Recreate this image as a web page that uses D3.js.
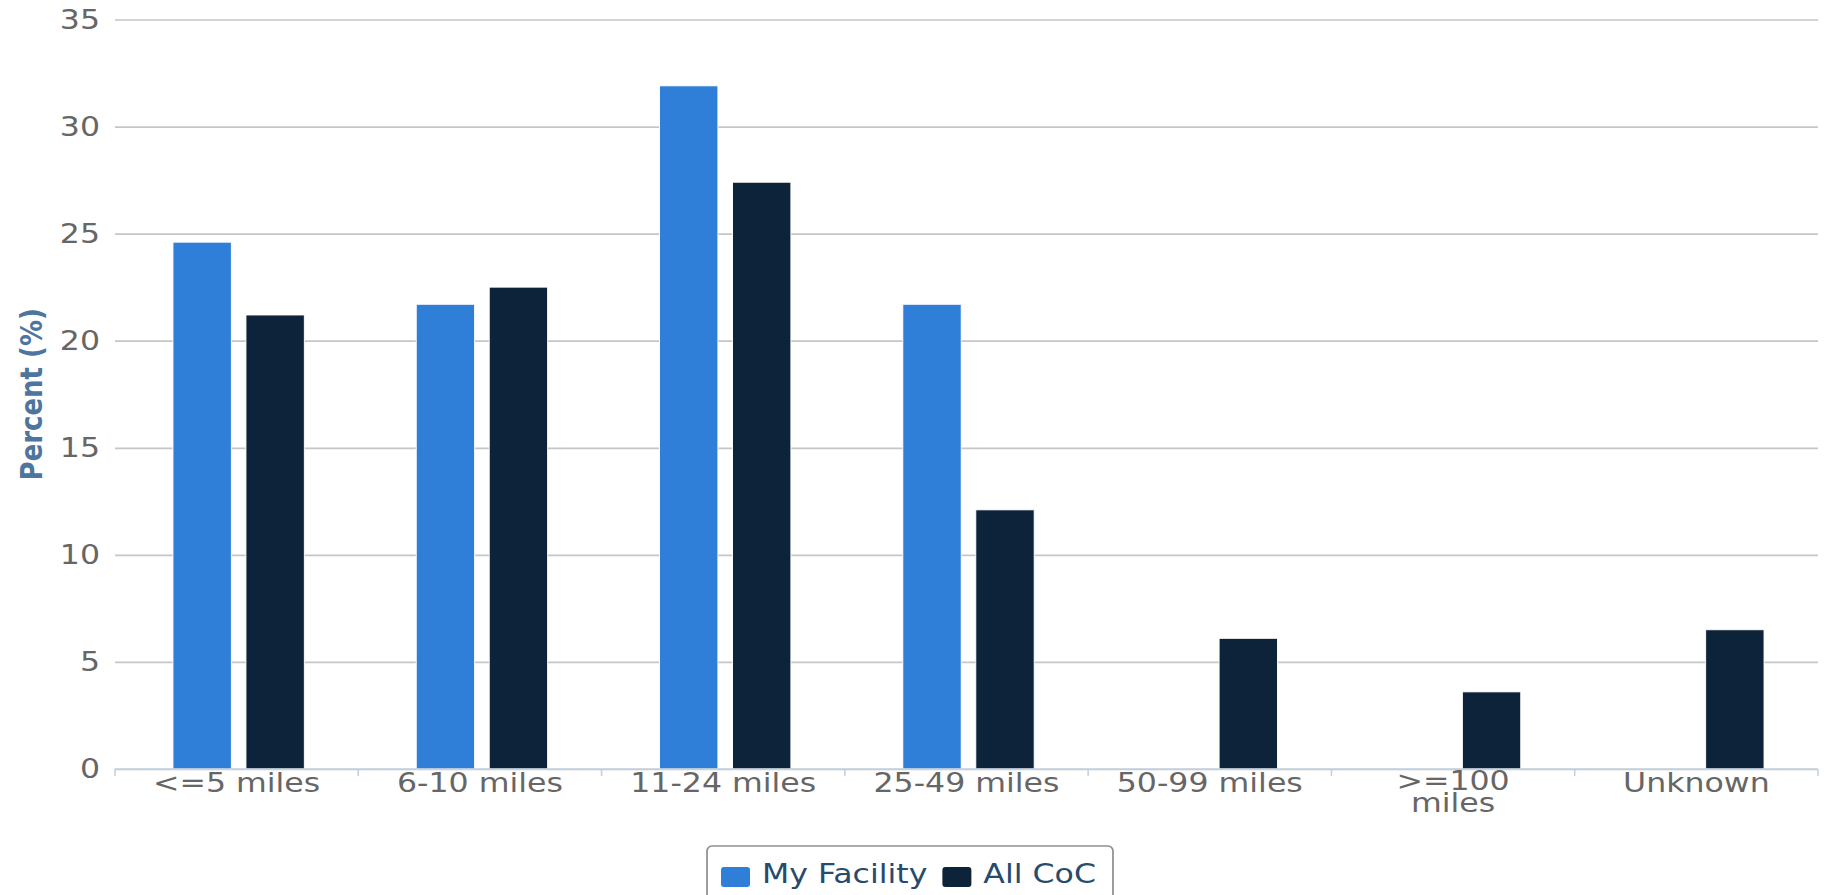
<!DOCTYPE html>
<html>
<head>
<meta charset="utf-8">
<script src="https://cdn.jsdelivr.net/npm/d3@7"></script>
<style>
  body { margin: 0; background: #fff; }
  text { font-family: "DejaVu Sans", Verdana, sans-serif; }
</style>
</head>
<body>
<script>
var width = 1826; // the svg fills the window
var height = 895;
var K = 1.17; // the reference is stretched sideways, so the whole drawing is too

// data
var categories = ["<=5 miles", "6-10 miles", "11-24 miles", "25-49 miles", "50-99 miles", ">=100 miles", "Unknown"];
var seriesNames = ["My Facility", "All CoC"];
var myFacility = [24.6, 21.7, 31.9, 21.7, 0, 0, 0];
var allCoC = [21.2, 22.5, 27.4, 12.1, 6.1, 3.6, 6.5];
var yTicks = [0, 5, 10, 15, 20, 25, 30, 35];
var colors = ["#2f7ed8", "#0d233a"];

var seriesValues = [myFacility, allCoC];

// plot area in screen pixels
var plotL = 115, plotR = 1818, plotT = 19.5, plotB = 769;

var svg = d3.select("body").append("svg")
  .attr("width", width)
  .attr("height", height);

var g = svg.append("g").attr("transform", "scale(" + K + ",1)");

var y = d3.scaleLinear().domain([0, 35]).range([plotB, plotT]);
var x0 = d3.scaleBand().domain(categories).range([plotL / K, plotR / K]);
// highcharts-like spacing: group padding 0.2, point padding 0.1
var x1 = d3.scaleBand().domain(seriesNames).range([0, x0.bandwidth()])
  .paddingInner(0.2).paddingOuter(0.7667);

// grid + y labels
var yAxis = d3.axisLeft(y).tickValues(yTicks)
  .tickSize(-(plotR - plotL) / K)
  .tickPadding(15 / K);

var yg = g.append("g")
  .attr("transform", "translate(" + (plotL / K) + ",0)")
  .call(yAxis);
yg.select(".domain").remove();
yg.selectAll(".tick line").attr("stroke", "#c6c6c6").attr("stroke-width", 1.7);
yg.selectAll(".tick text")
  .style("font-size", "27px")
  .attr("fill", "#666");

// bars
var rows = categories.map(function (c, i) {
  return seriesNames.map(function (s, j) {
    return { cat: c, name: s, value: seriesValues[j][i], color: colors[j] };
  });
});

g.append("g").selectAll("g")
  .data(rows)
  .join("g")
  .attr("transform", function (d, i) { return "translate(" + x0(categories[i]) + ",0)"; })
  .selectAll("rect")
  .data(function (d) { return d.filter(function (p) { return p.value > 0; }); })
  .join("rect")
  .attr("x", function (d) { return x1(d.name) + 2 / K; })
  .attr("width", x1.bandwidth())
  .attr("y", function (d) { return y(d.value); })
  .attr("height", function (d) { return y(0) - y(d.value); })
  .attr("fill", function (d) { return d.color; })
  .attr("stroke", "#fff")
  .attr("stroke-width", 0.8);

// x axis line and boundary ticks
g.append("line")
  .attr("x1", plotL / K).attr("x2", plotR / K)
  .attr("y1", plotB).attr("y2", plotB)
  .attr("stroke", "#c0d0e0").attr("stroke-width", 1.7);

var bounds = categories.map(function (c) { return x0(c); }).concat([x0.range()[1]]);
g.append("g").selectAll("line")
  .data(bounds)
  .join("line")
  .attr("x1", function (d) { return d; })
  .attr("x2", function (d) { return d; })
  .attr("y1", plotB)
  .attr("y2", plotB + 7)
  .attr("stroke", "#c0d0e0")
  .attr("stroke-width", 1.3);

// x labels, wrapped when too wide for the slot
var xl = g.append("g").selectAll("text")
  .data(categories)
  .join("text")
  .attr("x", function (d) { return x0(d) + x0.bandwidth() / 2; })
  .attr("y", 792)
  .attr("text-anchor", "middle")
  .style("font-size", "27px")
  .attr("fill", "#666")
  .text(function (d) { return d; });

xl.each(function (d) {
  var t = d3.select(this);
  if (this.getComputedTextLength() > 165) {
    var cut = d.lastIndexOf(" ");
    var cx = t.attr("x");
    t.text(null);
    t.append("tspan").attr("x", cx).attr("y", 790).text(d.slice(0, cut));
    t.append("tspan").attr("x", cx).attr("y", 812).text(d.slice(cut + 1));
  }
});

// y axis title
g.append("text")
  .attr("transform", "translate(" + (42 / K) + "," + ((plotT + plotB) / 2) + ") rotate(-90)")
  .attr("text-anchor", "middle")
  .style("font-size", "26px")
  .style("font-weight", "bold")
  .attr("fill", "#4d759e")
  .text("Percent (%)");

// legend
var legend = g.append("g");
var lx = 0;
var items = legend.selectAll("g")
  .data(seriesNames)
  .join("g");

items.append("rect")
  .attr("y", 867)
  .attr("width", 29 / K)
  .attr("height", 20)
  .attr("rx", 3 / K).attr("ry", 3)
  .attr("fill", function (d, i) { return colors[i]; });

items.append("text")
  .attr("x", 41 / K)
  .attr("y", 883)
  .style("font-size", "27px")
  .attr("fill", "#274b6d")
  .text(function (d) { return d; });

items.each(function () {
  var it = d3.select(this);
  it.attr("transform", "translate(" + lx + ",0)");
  lx += 41 / K + it.select("text").node().getComputedTextLength() + 15 / K;
});
var itemsW = lx - 15 / K;
var boxL = -14 / K, boxR = itemsW + 17 / K;
legend.insert("rect", ":first-child")
  .attr("x", boxL)
  .attr("y", 846)
  .attr("width", boxR - boxL)
  .attr("height", 70)
  .attr("rx", 5 / K).attr("ry", 5)
  .attr("fill", "#fff")
  .attr("stroke", "#909090")
  .attr("stroke-width", 1.5);

legend.attr("transform", "translate(" + (910 / K - (boxL + boxR) / 2) + ",0)");
</script>
</body>
</html>
